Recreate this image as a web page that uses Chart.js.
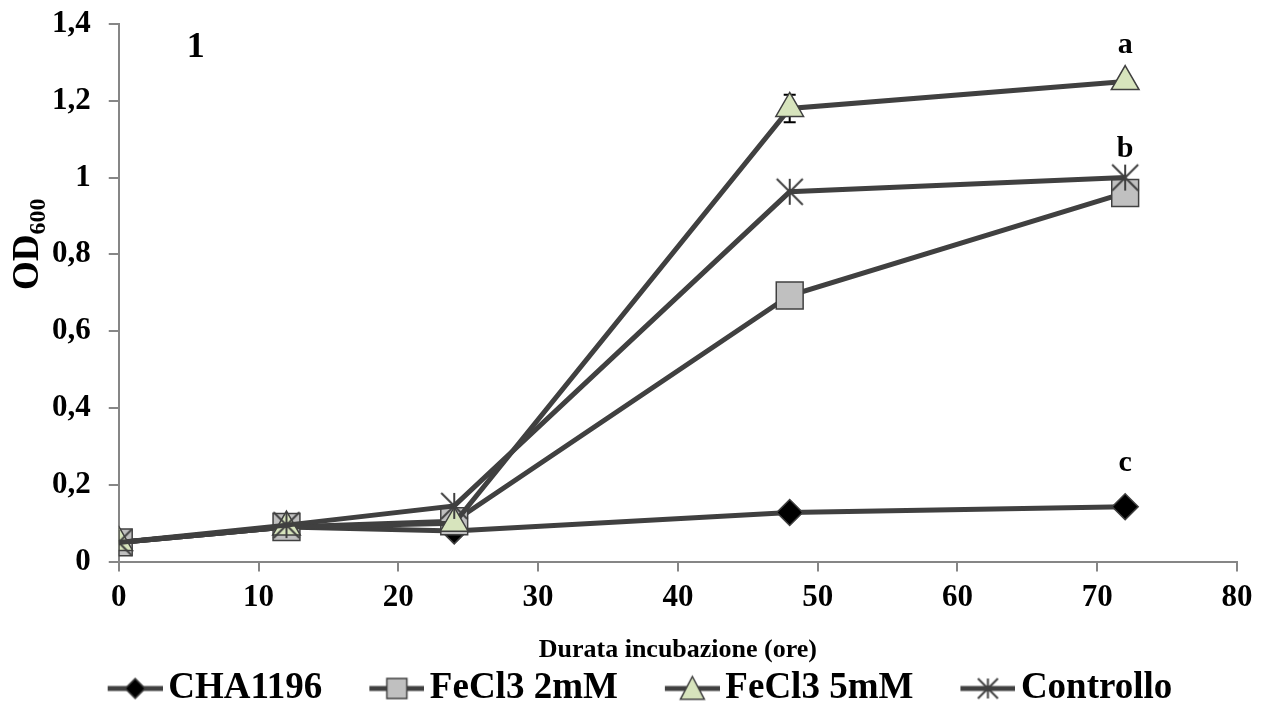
<!DOCTYPE html>
<html>
<head>
<meta charset="utf-8">
<script src="https://cdn.jsdelivr.net/npm/chart.js@4.4.0/dist/chart.umd.min.js"></script>
<style>
    html, body { margin: 0; padding: 0; background: #fff; }
</style>
</head>
<body>
<canvas id="chart" width="1271" height="704"></canvas>
<script>
// Data
const hours = [0, 12, 24, 48, 72];
const cha1196 = [0.05, 0.09, 0.08, 0.128, 0.143];
const fecl3_2mM = [0.05, 0.09, 0.105, 0.693, 0.96];
const fecl3_5mM = [0.05, 0.09, 0.10, 1.18, 1.25];
const controllo = [0.05, 0.095, 0.145, 0.963, 1.0];
const fecl3_5mM_err = [0, 0, 0, 0.036, 0];
const seriesNames = ['CHA1196', 'FeCl3 2mM', 'FeCl3 5mM', 'Controllo'];
const yTickLabels = ['0', '0,2', '0,4', '0,6', '0,8', '1', '1,2', '1,4'];
const letters = ['a', 'b', 'c'];
const letterY = [1.324, 1.053, 0.235];
const panelLabel = '1';

const FONT = '"Liberation Serif", "Times New Roman", serif';
const LINE = '#404040';
const AXIS = '#868686';

// Marker drawing, shared by the legend icons and the asterisk point style
function drawMarker(ctx, kind, cx, cy, r) {
    ctx.save();
    ctx.strokeStyle = LINE;
    ctx.lineWidth = 1.5;
    ctx.beginPath();
    if (kind === 'diamond') {
        ctx.fillStyle = '#000';
        ctx.moveTo(cx, cy - r); ctx.lineTo(cx + r, cy); ctx.lineTo(cx, cy + r); ctx.lineTo(cx - r, cy);
        ctx.closePath(); ctx.fill(); ctx.stroke();
    } else if (kind === 'square') {
        ctx.fillStyle = '#c0c0c0';
        ctx.rect(cx - r, cy - r, 2 * r, 2 * r);
        ctx.fill(); ctx.stroke();
    } else if (kind === 'triangle') {
        ctx.fillStyle = '#d7e4bd';
        ctx.moveTo(cx, cy - r); ctx.lineTo(cx + r, cy + r * 0.9); ctx.lineTo(cx - r, cy + r * 0.9);
        ctx.closePath(); ctx.fill(); ctx.stroke();
    } else {
        ctx.lineWidth = 2;
        ctx.moveTo(cx - r, cy - r); ctx.lineTo(cx + r, cy + r);
        ctx.moveTo(cx + r, cy - r); ctx.lineTo(cx - r, cy + r);
        ctx.moveTo(cx, cy - r); ctx.lineTo(cx, cy + r);
        ctx.stroke();
    }
    ctx.restore();
}

function starCanvas(r) {
    const c = document.createElement('canvas');
    c.width = 2 * r + 4; c.height = 2 * r + 4;
    drawMarker(c.getContext('2d'), 'star', r + 2, r + 2, r);
    return c;
}

// legend icon: short line with the marker in the middle, placed at the right side of the canvas
const BOX = 85;
function legendIcon(kind) {
    const c = document.createElement('canvas');
    c.width = BOX + 26; c.height = 40;
    const g = c.getContext('2d');
    const x0 = BOX - 29, x1 = c.width;
    g.strokeStyle = LINE; g.lineWidth = 5;
    g.beginPath(); g.moveTo(x0, 20); g.lineTo(x1, 20); g.stroke();
    drawMarker(g, kind, (x0 + x1) / 2, 20, kind === 'triangle' ? 12 : 10);
    return c;
}
const markerKinds = ['diamond', 'square', 'triangle', 'star'];
const icons = markerKinds.map(legendIcon);

const toPoints = vals => vals.map((v, i) => ({ x: hours[i], y: v }));

function series(i, vals, style) {
    return Object.assign({
        label: seriesNames[i],
        data: toPoints(vals),
        borderColor: LINE,
        borderWidth: 5,
        pointBorderColor: LINE,
        pointBorderWidth: 1.5,
        pointHoverRadius: 0,
        tension: 0,
        order: 4 - i
    }, style);
}

// error bars (only visible one sits on FeCl3 5mM at 48 h)
const errorBars = {
    id: 'errorBars',
    beforeDatasetDraw(chart, args) {
        if (args.index !== 2) return;
        const { ctx, scales: { x, y } } = chart;
        ctx.save();
        ctx.strokeStyle = '#000';
        ctx.lineWidth = 2;
        fecl3_5mM_err.forEach((e, i) => {
            if (!e) return;
            const px = x.getPixelForValue(hours[i]);
            const top = y.getPixelForValue(fecl3_5mM[i] + e);
            const bot = y.getPixelForValue(fecl3_5mM[i] - e);
            ctx.beginPath();
            ctx.moveTo(px, top); ctx.lineTo(px, bot);
            ctx.moveTo(px - 6, top); ctx.lineTo(px + 6, top);
            ctx.moveTo(px - 6, bot); ctx.lineTo(px + 6, bot);
            ctx.stroke();
        });
        ctx.restore();
    }
};

// the legend icons hang left of each item, so nudge the row back to the centre
const legendShift = {
    id: 'legendShift',
    afterLayout(chart) {
        chart.legend.left -= 17;
        chart.legend.right -= 17;
    }
};

// letters, panel number and the OD600 axis title
const annotate = {
    id: 'annotate',
    afterDraw(chart) {
        const { ctx, chartArea, scales: { x, y } } = chart;
        ctx.save();
        ctx.fillStyle = '#000';
        ctx.textAlign = 'center';
        ctx.textBaseline = 'alphabetic';
        ctx.font = 'bold 30px ' + FONT;
        letters.forEach((t, i) => ctx.fillText(t, x.getPixelForValue(72), y.getPixelForValue(letterY[i])));
        ctx.font = 'bold 36px ' + FONT;
        ctx.fillText(panelLabel, x.getPixelForValue(5.5), y.getPixelForValue(1.314));

        ctx.translate(chartArea.left - 81, 290);
        ctx.rotate(-Math.PI / 2);
        ctx.textAlign = 'left';
        ctx.font = 'bold 37px ' + FONT;
        ctx.fillText('OD', 0, 0);
        const w = ctx.measureText('OD').width;
        ctx.font = 'bold 24px ' + FONT;
        ctx.fillText('600', w, 7);
        ctx.restore();
    }
};

const ctx = document.getElementById('chart').getContext('2d');
new Chart(ctx, {
    type: 'line',
    data: {
        datasets: [
            series(0, cha1196, { pointStyle: 'rectRot', pointRadius: 13, pointBackgroundColor: '#000' }),
            series(1, fecl3_2mM, { pointStyle: 'rect', pointRadius: 19, pointBackgroundColor: '#c0c0c0' }),
            series(2, fecl3_5mM, { pointStyle: 'triangle', pointRadius: 16, pointBackgroundColor: '#d7e4bd' }),
            series(3, controllo, { pointStyle: starCanvas(13), pointRadius: 13, pointBackgroundColor: LINE })
        ]
    },
    options: {
        responsive: false,
        animation: false,
        devicePixelRatio: 1,
        layout: { padding: { left: 34, right: 34, top: 0, bottom: -13 } },
        plugins: {
            tooltip: { enabled: false },
            legend: {
                position: 'bottom',
                labels: {
                    usePointStyle: true,
                    pointStyleWidth: BOX,
                    padding: 4,
                    color: '#000',
                    font: { family: FONT, size: 37, weight: 'bold' },
                    generateLabels(chart) {
                        const items = Chart.defaults.plugins.legend.labels.generateLabels(chart);
                        items.sort((a, b) => a.datasetIndex - b.datasetIndex);
                        items.forEach(it => { it.pointStyle = icons[it.datasetIndex]; });
                        return items;
                    }
                }
            }
        },
        scales: {
            x: {
                type: 'linear',
                min: 0,
                max: 80,
                ticks: {
                    stepSize: 10,
                    padding: 8,
                    maxRotation: 0,
                    color: '#000',
                    font: { family: FONT, size: 31, weight: 'bold' }
                },
                grid: { drawOnChartArea: false, tickLength: 10, color: AXIS, lineWidth: 2 },
                border: { color: AXIS, width: 2 },
                title: {
                    display: true,
                    text: 'Durata incubazione (ore)',
                    color: '#000',
                    font: { family: FONT, size: 26, weight: 'bold' },
                    padding: { top: 10, bottom: 0 }
                }
            },
            y: {
                min: 0,
                max: 1.4,
                afterFit(scale) { scale.paddingTop = 24; scale.paddingBottom = 20; },
                ticks: {
                    stepSize: 0.2,
                    padding: 18,
                    color: '#000',
                    font: { family: FONT, size: 31, weight: 'bold' },
                    callback: (v, i) => yTickLabels[i]
                },
                grid: { drawOnChartArea: false, tickLength: 10, color: AXIS, lineWidth: 2 },
                border: { color: AXIS, width: 2 }
            }
        }
    },
    plugins: [errorBars, legendShift, annotate]
});
</script>
</body>
</html>
